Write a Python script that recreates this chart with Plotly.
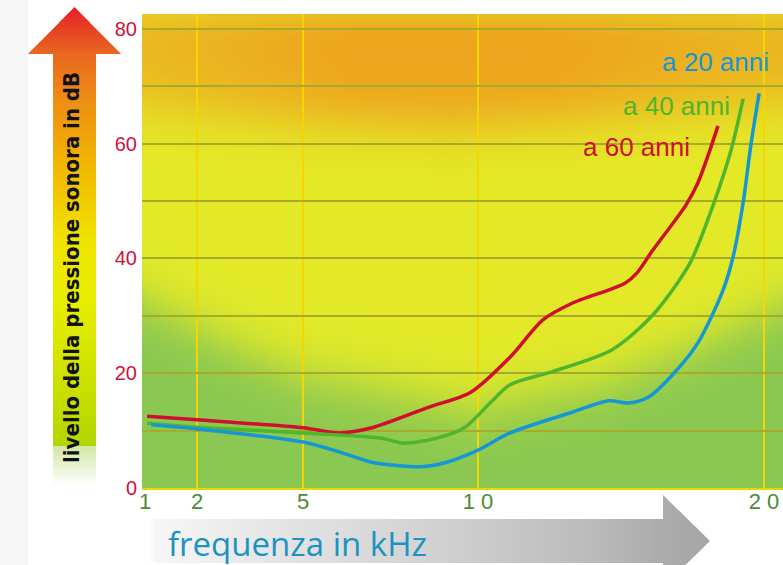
import base64
import struct
import zlib

import numpy as np
import plotly.graph_objects as go

# ---- data: hearing threshold curves (frequency in kHz, level in dB) ----
freq_60 = [1.04, 2.0, 5.0, 6.03, 6.97, 8.6, 9.77, 11.12, 12.27, 13.29, 15.14, 15.56, 16.12, 17.27, 17.69, 18.11, 18.39]
db_60 = [12.5, 11.9, 10.5, 9.6, 10.5, 14.1, 16.6, 22.8, 29.3, 32.2, 35.7, 37.5, 41.5, 49.3, 53.2, 58.9, 63.1]

freq_40 = [1.04, 2.0, 5.0, 7.2, 7.89, 8.83, 9.63, 10.42, 11.12, 12.55, 14.69, 16.12, 17.41, 18.25, 18.85, 19.27]
db_40 = [11.3, 10.6, 9.6, 8.7, 7.8, 8.7, 10.6, 14.8, 18.0, 20.2, 24.1, 30.2, 39.2, 49.7, 58.9, 67.8]

freq_20 = [1.12, 2.0, 5.0, 6.03, 6.97, 8.37, 9.06, 10.0, 11.12, 13.29, 14.58, 15.28, 15.98, 16.85, 17.69, 18.57, 18.92, 19.27, 19.55, 19.83]
db_20 = [11.0, 10.3, 8.0, 6.3, 4.5, 3.7, 4.4, 6.6, 9.6, 13.2, 15.2, 14.8, 15.9, 20.0, 25.3, 34.5, 40.3, 49.7, 60.1, 68.8]

series_names = ["a 60 anni", "a 40 anni", "a 20 anni"]
series_colors = ["#cf0f2f", "#4fb52e", "#1597d6"]

x_ticks = [1, 2, 5, 10, 20]
x_ticktext = ["1", "2", "5", "1 0", "2 0"]
y_ticks = [0, 20, 40, 60, 80]

# ---- the frequency scale of this chart is stretched by hand: map kHz -> axis units ----
SCALE_FREQ = [1, 2, 5, 10, 20]
SCALE_POS = [0, 52, 158, 333, 619]


def fpos(f):
    return np.interp(np.asarray(f, dtype=float), SCALE_FREQ, SCALE_POS)


W, H = 783, 565
X0, X1 = -3, 638          # axis range (1 unit = 1 px)
Y0, Y1 = 0, 82.6
dom_x = [142 / W, 1.0]
dom_y = [1 - 488 / H, 1 - 14 / H]


def png_uri(arr):
    arr = np.ascontiguousarray(arr.astype(np.uint8))
    h, w, c = arr.shape
    ctype = 6 if c == 4 else 2
    raw = b"".join(b"\x00" + arr[i].tobytes() for i in range(h))

    def chunk(t, d):
        return struct.pack(">I", len(d)) + t + d + struct.pack(">I", zlib.crc32(t + d) & 0xFFFFFFFF)

    png = (b"\x89PNG\r\n\x1a\n"
           + chunk(b"IHDR", struct.pack(">IIBBBBB", w, h, 8, ctype, 0, 0, 0))
           + chunk(b"IDAT", zlib.compress(raw, 9))
           + chunk(b"IEND", b""))
    return "data:image/png;base64," + base64.b64encode(png).decode()


def sig(v):
    return 1.0 / (1.0 + np.exp(-v))


# ---- plot background: orange top, yellow middle, green bottom ----
bw, bh = 641, 474
px = np.arange(bw)[None, :] + 142.5
py = np.arange(bh)[:, None] + 14.5
yellow = np.array([228, 234, 40], float)
orange = np.array([238, 164, 30], float)
green = np.array([138, 200, 82], float)

o_edge = np.interp(px, [142, 300, 450, 600, 783], [108, 120, 128, 118, 104])
o_w = sig((o_edge - py) / 16.0)
o_w *= np.interp(px, [142, 250, 350, 560, 680, 783], [0.7, 0.85, 1.0, 1.0, 0.85, 0.75])
o_w *= 1 - 0.35 * sig((26 - py) / 5.0)
g_edge = np.interp(px, [142, 220, 300, 470, 600, 700, 783], [300, 340, 375, 410, 385, 345, 305])
g_w = sig((py - g_edge) / 16.0)

bg = yellow[None, None, :] * (1 - o_w[..., None]) + orange[None, None, :] * o_w[..., None]
bg = bg * (1 - g_w[..., None]) + green[None, None, :] * g_w[..., None]
bg_uri = png_uri(np.clip(bg, 0, 255))


def supersample(mask_fn, x0, y0, w, h, n=3):
    acc = np.zeros((h, w))
    for i in range(n):
        for j in range(n):
            xx = np.arange(w)[None, :] + x0 + (i + 0.5) / n
            yy = np.arange(h)[:, None] + y0 + (j + 0.5) / n
            acc += mask_fn(xx, yy)
    return acc / (n * n)


# ---- vertical arrow (level axis) ----
ax0, ay0, aw, ah = 28, 6, 93, 481


def up_arrow(xx, yy):
    shaft = (xx >= 53) & (xx <= 96) & (yy >= 54) & (yy <= 486)
    head = (yy >= 7) & (yy <= 54) & (np.abs(xx - 74.5) <= (yy - 7) * 46.5 / 47)
    return (shaft | head).astype(float)


cov = supersample(up_arrow, ax0, ay0, aw, ah)
yy = np.arange(ah)[:, None] + ay0 + 0.5
stops_y = [7, 54, 100, 170, 240, 300, 380, 445]
cols = np.array([(228, 32, 40), (234, 104, 32), (238, 142, 20), (243, 186, 0),
                 (240, 228, 0), (232, 238, 0), (205, 226, 0), (180, 214, 0)], float)
rgb = np.stack([np.interp(yy, stops_y, cols[:, k]) for k in range(3)], -1)
rgb = np.broadcast_to(rgb, (ah, aw, 3)).copy()
fade = yy[..., 0] > 446
rgb[fade] = (170, 212, 90)
alpha = np.where(yy > 446, np.clip(0.55 * (486 - yy) / 40, 0, 1), 1.0) * cov
up_uri = png_uri(np.dstack([rgb, np.clip(alpha * 255, 0, 255)]))

# ---- horizontal arrow (frequency axis) ----
bx0, by0, bww, bhh = 146, 494, 566, 71


def right_arrow(xx, yy):
    shaft = (xx >= 147) & (xx <= 664) & (yy >= 519) & (yy <= 563)
    head = (xx >= 663) & (xx <= 710) & (np.abs(yy - 541) <= (710 - xx) * 46 / 47)
    return (shaft | head).astype(float)


cov2 = supersample(right_arrow, bx0, by0, bww, bhh)
xx = np.arange(bww)[None, :] + bx0 + 0.5
stops_x = [147, 300, 450, 600, 663, 710]
gv = np.interp(xx, stops_x, [248, 226, 208, 186, 172, 166])
rgb2 = np.broadcast_to(np.dstack([gv, gv, gv]), (bhh, bww, 3))
a2 = cov2 * np.clip((xx - 147) / 10.0, 0, 1)
right_uri = png_uri(np.dstack([rgb2, np.clip(a2 * 255, 0, 255)]))

# ---- figure ----
fig = go.Figure()
for f, d, name, col in zip([freq_60, freq_40, freq_20], [db_60, db_40, db_20], series_names, series_colors):
    fig.add_trace(go.Scatter(
        x=fpos(f), y=d, mode="lines", name=name,
        line=dict(color=col, width=3.5, shape="spline", smoothing=0.8),
        hovertemplate=name + "<br>%{y:.1f} dB<extra></extra>",
    ))

label_pos = [(692, 147), (732, 106), (771, 62)]  # right edge / middle, px
for name, col, (lx, ly) in zip(series_names, series_colors, label_pos):
    fig.add_annotation(
        x=lx - 145, y=(488 - ly) / 5.7375, xref="x", yref="y", text=name,
        showarrow=False, xanchor="right", yanchor="middle",
        font=dict(family="Liberation Sans, Arial, sans-serif", size=26, color=col),
    )

fig.add_annotation(
    x=72 / W, y=1 - 268 / H, xref="paper", yref="paper",
    text="<b>livello della pressione sonora in dB</b>", textangle=-90, showarrow=False,
    xanchor="center", yanchor="middle",
    font=dict(family="Liberation Sans Narrow, Arial Narrow, DejaVu Sans Condensed, sans-serif",
              size=22, color="#111111"),
)
fig.add_annotation(
    x=297 / W, y=1 - 543 / H, xref="paper", yref="paper",
    text="frequenza in kHz", showarrow=False, xanchor="center", yanchor="middle",
    font=dict(family="Open Sans, sans-serif", size=33, color="#1b93c3"),
)

fig.add_layout_image(dict(source=bg_uri, xref="x", yref="y", x=X0, y=Y1, sizex=X1 - X0, sizey=Y1 - Y0,
                          xanchor="left", yanchor="top", sizing="stretch", layer="below"))
fig.add_layout_image(dict(source=up_uri, xref="paper", yref="paper", x=ax0 / W, y=1 - ay0 / H,
                          sizex=aw / W, sizey=ah / H, xanchor="left", yanchor="top",
                          sizing="stretch", layer="below"))
fig.add_layout_image(dict(source=right_uri, xref="paper", yref="paper", x=bx0 / W, y=1 - by0 / H,
                          sizex=bww / W, sizey=bhh / H, xanchor="left", yanchor="top",
                          sizing="stretch", layer="below"))

# faint grey strip on the far left
fig.add_shape(type="rect", xref="paper", yref="paper", x0=0, x1=28 / W, y0=0, y1=1,
              fillcolor="#f6f6f6", line_width=0, layer="below")

grid_h = "#a6ab2c"
fig.update_layout(
    width=W, height=H, autosize=False, margin=dict(l=0, r=0, t=0, b=0, pad=0, autoexpand=False),
    paper_bgcolor="white", plot_bgcolor="rgba(0,0,0,0)", showlegend=False,
    xaxis=dict(
        domain=dom_x, range=[X0, X1], tickvals=fpos(x_ticks), ticktext=x_ticktext, automargin=False,
        showgrid=False, zeroline=False, showline=True, linecolor="#e6d800", linewidth=2,
        ticks="", ticklabelstandoff=-7,
        tickfont=dict(family="Liberation Sans, Arial, sans-serif", size=22, color="#4a8b36"),
        minor=dict(tickvals=fpos(x_ticks[1:]), showgrid=True, gridcolor="#f6d500", gridwidth=2, ticks=""),
        fixedrange=True,
    ),
    yaxis=dict(
        domain=dom_y, range=[Y0, Y1], tickvals=y_ticks, showgrid=True, gridcolor=grid_h, gridwidth=1.5,
        minor=dict(dtick=10, showgrid=True, gridcolor=grid_h, gridwidth=1.5, ticks=""),
        zeroline=False, ticks="", ticklabelstandoff=4, automargin=False,
        tickfont=dict(family="Liberation Sans, Arial, sans-serif", size=20, color="#d0123a"),
        fixedrange=True,
    ),
)

fig.write_html("out.html", config={"responsive": False, "displayModeBar": False})
